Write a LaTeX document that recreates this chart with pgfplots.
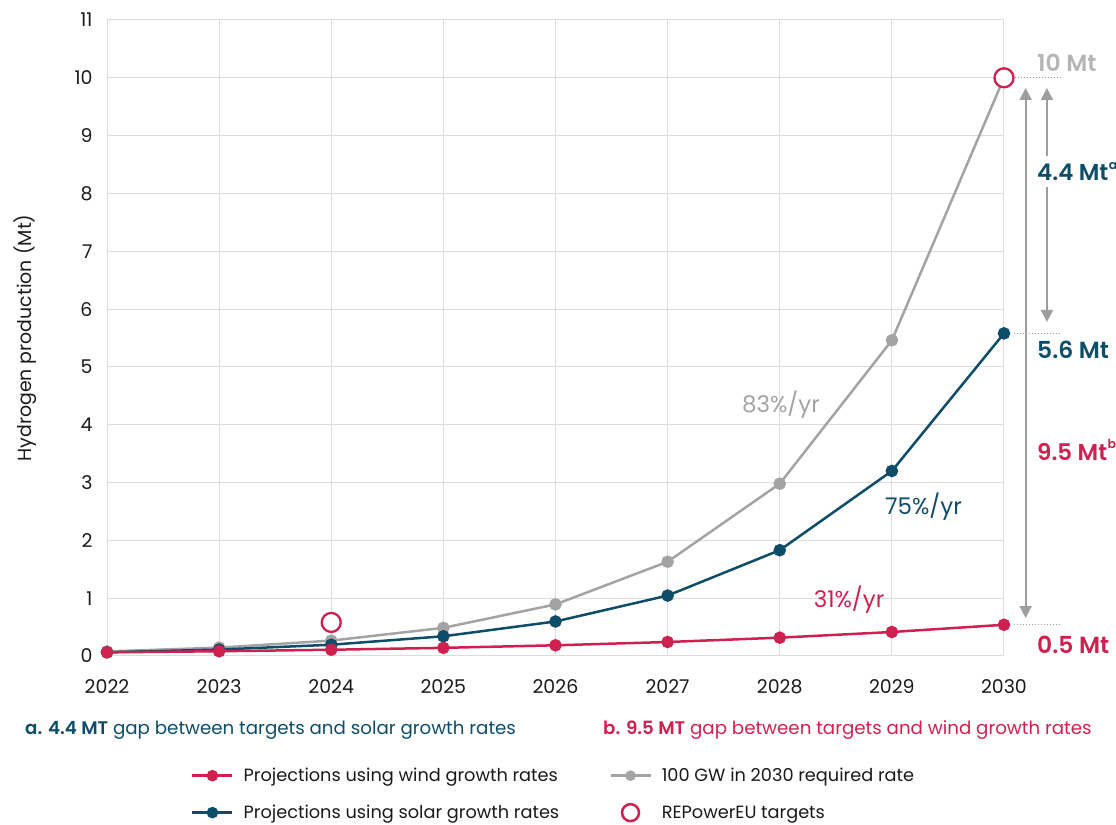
\documentclass[border=0pt]{standalone}
\usepackage{fontspec}
\setmainfont{Poppins}
\IfFontExistsTF{Poppins SemiBold}{\newfontfamily\semib{Poppins SemiBold}}{\newcommand\semib{\bfseries}}
\usepackage{pgfplots}
\usepackage{pgfplotstable}
\pgfplotsset{compat=1.18}
\usetikzlibrary{arrows.meta}
\definecolor{wind}{HTML}{CF2150}
\definecolor{solar}{HTML}{0E4D69}
\definecolor{req}{HTML}{A3A3A3}
\definecolor{reqtxt}{HTML}{B5B5B5}
\definecolor{arr}{HTML}{9E9E9E}
\definecolor{gridc}{HTML}{DCDCDC}
\definecolor{txt}{HTML}{1A1A1A}

\newcommand\supx[1]{\kern0.5bp\raisebox{0.5em}{\fontsize{12.5}{12.5}\selectfont #1}}

\pgfplotsset{
  linelegend/.style={legend image code/.code={\draw[mark repeat=2,mark phase=2,##1] plot coordinates {(0bp,0bp) (20bp,0bp) (40bp,0bp)};}},
  circlegend/.style={legend image code/.code={\draw[##1] plot coordinates {(20bp,0bp)};}},
}

\pgfplotstableread{
year val
2022 0.063
2023 0.082
2024 0.108
2025 0.141
2026 0.185
2027 0.242
2028 0.317
2029 0.415
2030 0.540
}\windtab
\pgfplotstableread{
year val
2022 0.064
2023 0.111
2024 0.195
2025 0.341
2026 0.597
2027 1.045
2028 1.830
2029 3.200
2030 5.580
}\solartab
\pgfplotstableread{
year val
2022 0.079
2023 0.145
2024 0.266
2025 0.487
2026 0.892
2027 1.630
2028 2.980
2029 5.460
2030 10.00
}\reqtab
\pgfplotstableread{
year val
2024 0.58
2030 10.0
}\targettab

\begin{document}
\begin{tikzpicture}[x=1bp,y=1bp]
\path[use as bounding box] (0,0) rectangle (1116,825);
\begin{axis}[
  at={(107bp,169bp)}, anchor=south west,
  scale only axis, width=897bp, height=636bp,
  xmin=2022, xmax=2030, ymin=0, ymax=11,
  xtick={2022,...,2030}, ytick={0,...,11},
  /pgf/number format/1000 sep={},
  /pgf/number format/assume math mode=true,
  tick label style={font=\fontsize{19}{23}\selectfont, text=txt},
  xticklabel style={yshift=-20bp},
  yticklabel style={xshift=-11bp},
  major tick length=0pt,
  tick style={draw=none},
  axis line style={draw=none},
  grid=major,
  major grid style={gridc, line width=1bp},
  ylabel={Hydrogen production (Mt)},
  ylabel style={font=\fontsize{19}{23}\selectfont, text=txt, at={(axis description cs:-0.091,0.5)}, anchor=center},
  clip=false,
  legend columns=2,
  legend cell align=left,
  legend style={at={(axis description cs:0.0903,-0.1698)}, anchor=north west, draw=none, fill=none,
    font=\fontsize{17.8}{21}\selectfont, text=txt, row sep=18bp,
    /tikz/every odd column/.append style={column sep=8bp},
    /tikz/every even column/.append style={column sep=48bp}},
]
% legend images
\addlegendimage{wind, line width=2.5bp, mark=*, mark size=4.5bp, mark options={fill=wind,draw=wind}, linelegend}
\addlegendentry{Projections using wind growth rates}
\addlegendimage{req, line width=2.5bp, mark=*, mark size=4bp, mark options={fill=req,draw=req}, linelegend}
\addlegendentry{100 GW in 2030 required rate}
\addlegendimage{solar, line width=2.5bp, mark=*, mark size=4.5bp, mark options={fill=solar,draw=solar}, linelegend}
\addlegendentry{Projections using solar growth rates}
\addlegendimage{only marks, mark=*, mark size=8.5bp, mark options={draw=wind, fill=white, line width=2.5bp}, circlegend}
\addlegendentry{REPowerEU targets}

% data
\addplot[forget plot, req, line width=2.5bp, mark=*, mark size=5bp, mark options={fill=req,draw=req}] table[x=year,y=val]{\reqtab};
\addplot[forget plot, solar, line width=2.5bp, mark=*, mark size=5bp, mark options={fill=solar,draw=solar}] table[x=year,y=val]{\solartab};
\addplot[forget plot, wind, line width=2.5bp, mark=*, mark size=5bp, mark options={fill=wind,draw=wind}] table[x=year,y=val]{\windtab};
\addplot[forget plot, only marks, mark=*, mark size=9.5bp, mark options={draw=wind, fill=white, line width=2.3bp}] table[x=year,y=val]{\targettab};

% dotted guide lines
\draw[arr, line width=1bp, dotted] (axis cs:2030.1,10) -- (axis cs:2030.517,10);
\draw[arr, line width=1bp, dotted] (axis cs:2030.09,5.58) -- (axis cs:2030.517,5.58);
\draw[arr, line width=1bp, dotted] (axis cs:2030.09,0.54) -- (axis cs:2030.517,0.54);

% gap arrows
\draw[arr, line width=2bp, {Triangle[width=12bp,length=12bp]}-{Triangle[width=12bp,length=12bp]}]
  (axis cs:2030.193,9.824) -- (axis cs:2030.193,0.657);
\draw[arr, line width=2bp, {Triangle[width=12bp,length=12bp]}-{Triangle[width=12bp,length=12bp]}]
  (axis cs:2030.383,9.824) -- (axis cs:2030.383,5.777);

% value labels
\node[anchor=west, inner sep=0pt, text=reqtxt, font=\fontsize{23.5}{27}\selectfont\semib] at (axis cs:2030.294,10.26) {10 Mt};
\node[anchor=west, inner xsep=0pt, inner ysep=6bp, fill=white, text=solar, font=\fontsize{23}{27}\selectfont\semib] at (axis cs:2030.294,8.38) {4.4 Mt\supx{a}};
\node[anchor=west, inner sep=0pt, text=solar, font=\fontsize{23.5}{27}\selectfont\semib] at (axis cs:2030.294,5.29) {5.6 Mt};
\node[anchor=west, inner sep=0pt, text=wind, font=\fontsize{23}{27}\selectfont\semib] at (axis cs:2030.294,3.56) {9.5 Mt\supx{b}};
\node[anchor=west, inner sep=0pt, text=wind, font=\fontsize{23.5}{27}\selectfont\semib] at (axis cs:2030.294,0.19) {0.5 Mt};

% growth rate labels
\node[inner sep=0pt, text=req, font=\fontsize{23}{27}\selectfont] at (axis cs:2028.011,4.34) {83\%/yr};
\node[inner sep=0pt, text=solar, font=\fontsize{23}{27}\selectfont] at (axis cs:2029.282,2.582) {75\%/yr};
\node[inner sep=0pt, text=wind, font=\fontsize{23}{27}\selectfont] at (axis cs:2028.618,0.969) {31\%/yr};
\end{axis}

% notes
\node[anchor=west, inner sep=0pt, text=solar, font=\fontsize{18.3}{22}\selectfont] at (25,95) {{\semib a. 4.4 MT} gap between targets and solar growth rates};
\node[anchor=west, inner sep=0pt, text=wind, font=\fontsize{18.3}{22}\selectfont] at (603,95) {{\semib b. 9.5 MT} gap between targets and wind growth rates};
\end{tikzpicture}
\end{document}
